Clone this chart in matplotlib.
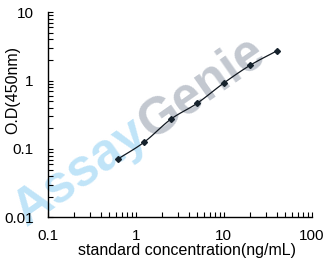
import numpy as np
import matplotlib
matplotlib.use("Agg")
import matplotlib.pyplot as plt

# Data
concentration = [0.625, 1.25, 2.5, 5, 10, 20, 40]
od450 = [0.071, 0.126, 0.272, 0.467, 0.92, 1.68, 2.72]
x_ticks = [0.1, 1, 10, 100]
x_tick_labels = ["0.1", "1", "10", "100"]
y_ticks = [0.01, 0.1, 1, 10]
y_tick_labels = ["0.01", "0.1", "1", "10"]

W, H = 327, 260
fig = plt.figure(figsize=(W / 100, H / 100), dpi=100)
L, R, T, B = 47.7, 311.7, 12.3, 217.3
ax = fig.add_axes([L / W, 1 - B / H, (R - L) / W, (B - T) / H])

font = "Liberation Sans"

# smooth line (Catmull-Rom in log space, through the data points)
lx = np.log10(concentration)
ly = np.log10(od450)
px = np.concatenate([[2 * lx[0] - lx[1]], lx, [2 * lx[-1] - lx[-2]]])
py = np.concatenate([[2 * ly[0] - ly[1]], ly, [2 * ly[-1] - ly[-2]]])
sx, sy = [], []
t = np.linspace(0, 1, 20)
for i in range(1, len(px) - 2):
    for arr, out in ((px, sx), (py, sy)):
        p0, p1, p2, p3 = arr[i - 1], arr[i], arr[i + 1], arr[i + 2]
        out.extend(0.5 * ((2 * p1) + (-p0 + p2) * t + (2 * p0 - 5 * p1 + 4 * p2 - p3) * t ** 2
                          + (-p0 + 3 * p1 - 3 * p2 + p3) * t ** 3))
ax.plot(10 ** np.array(sx), 10 ** np.array(sy), color="#111820", lw=0.9, zorder=3)
ax.plot(concentration, od450, linestyle="none", marker="D", markersize=3.0,
        color="#16222c", zorder=4)

ax.set_xscale("log")
ax.set_yscale("log")
ax.set_xlim(0.1, 100)
ax.set_ylim(0.01, 10)

for s in ("top", "right"):
    ax.spines[s].set_visible(False)
for s in ("left", "bottom"):
    ax.spines[s].set_linewidth(1.0)
    ax.spines[s].set_color("black")

ax.set_xticks(x_ticks)
ax.set_xticklabels(x_tick_labels)
ax.set_yticks(y_ticks)
ax.set_yticklabels(y_tick_labels)
ax.tick_params(which="both", direction="in", length=3.6, width=0.8, color="black")
ax.tick_params(axis="y", which="major", pad=10, labelsize=11)
ax.tick_params(axis="x", which="major", pad=8.5, labelsize=11)
for lab in ax.get_xticklabels() + ax.get_yticklabels():
    lab.set_fontfamily(font)

ax.set_xlabel("standard concentration(ng/mL)", fontsize=11.5, fontfamily=font, va="center")
ax.xaxis.set_label_coords((187 - L) / (R - L), (B - 250.5) / (B - T))
ax.set_ylabel("O.D(450nm)", fontsize=11.5, fontfamily=font, va="center")
ax.yaxis.set_label_coords((13 - L) / (R - L), (B - 90) / (B - T))

# watermark
ang = 35.0
cx, cy = 140.0, 131.0
d = np.array([np.cos(np.radians(ang)), np.sin(np.radians(ang))])
for word, off, col in (("Assay", -72.0, "#c0e4f8"), ("Genie", 76.0, "#c3c8d0")):
    px_ = cx + off * d[0]
    py_ = (H - cy) + off * d[1]
    ax.text(px_ / W, py_ / H, word, transform=fig.transFigure, rotation=ang,
            rotation_mode="anchor", ha="center", va="center", fontsize=37,
            fontweight="bold", fontfamily=font, color=col, zorder=1, clip_on=False)

fig.savefig("out.png", dpi=100)
